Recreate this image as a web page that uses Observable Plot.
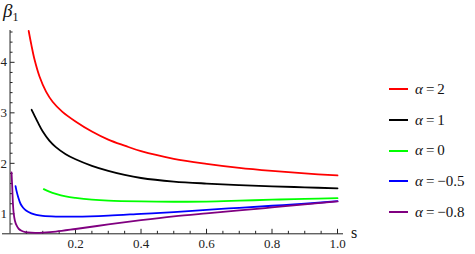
<!DOCTYPE html>
<html><head><meta charset="utf-8">
<script src="https://cdn.jsdelivr.net/npm/d3@7"></script>
<script src="https://cdn.jsdelivr.net/npm/@observablehq/plot@0.6"></script>
<style>
html,body{margin:0;padding:0;background:#fff}
#wrap{position:relative;width:475px;height:254px;overflow:hidden;font-family:"Liberation Serif","DejaVu Serif",serif;color:#111}
#wrap svg{position:absolute;left:0;top:0}
.ylab{position:absolute;left:3px;top:1px;font-size:19px;line-height:1}
.ylab sub{font-size:12px;font-style:normal;vertical-align:-4px}
.xlab{position:absolute;left:351px;top:225px;font-size:16px;line-height:1}
#legend{position:absolute;left:389px;top:74px}
#legend .row{height:30.7px;display:flex;align-items:center;font-size:15px;white-space:pre}
#legend .sw{display:inline-block;width:19px;height:2px;margin-right:7px}
</style></head><body><div id="wrap"></div>
<script>
// ---- data ----
const seriesLabels = ["α=2", "α=1", "α=0", "α=−0.5", "α=−0.8"];
const seriesColors = ["#ff0000", "#000000", "#00ff00", "#0000ff", "#800080"];

const sA2 = [0.057, 0.065, 0.075, 0.09, 0.11, 0.13, 0.16, 0.2, 0.25, 0.3, 0.35, 0.4, 0.5, 0.6, 0.7, 0.8, 0.9, 1.0];
const bA2 = [4.62, 4.35, 4.05, 3.72, 3.42, 3.22, 3.02, 2.83, 2.63, 2.47, 2.35, 2.24, 2.09, 1.99, 1.91, 1.85, 1.80, 1.76];

const sA1 = [0.066, 0.075, 0.085, 0.1, 0.12, 0.14, 0.17, 0.2, 0.25, 0.3, 0.35, 0.4, 0.5, 0.6, 0.7, 0.8, 0.9, 1.0];
const bA1 = [3.06, 2.94, 2.81, 2.63, 2.45, 2.32, 2.18, 2.08, 1.95, 1.85, 1.77, 1.71, 1.64, 1.60, 1.57, 1.545, 1.525, 1.505];

const sA0 = [0.103, 0.12, 0.14, 0.17, 0.2, 0.25, 0.3, 0.4, 0.5, 0.6, 0.7, 0.8, 0.9, 1.0];
const bA0 = [1.49, 1.44, 1.395, 1.345, 1.315, 1.28, 1.26, 1.245, 1.24, 1.243, 1.26, 1.28, 1.295, 1.31];

const sAm05 = [0.0168, 0.02, 0.025, 0.032, 0.04, 0.05, 0.065, 0.08, 0.1, 0.14, 0.2, 0.3, 0.4, 0.5, 0.6, 0.7, 0.8, 0.9, 1.0];
const bAm05 = [1.55, 1.45, 1.33, 1.20, 1.12, 1.06, 1.01, 0.98, 0.96, 0.947, 0.945, 0.965, 1.0, 1.035, 1.08, 1.12, 1.16, 1.20, 1.25];

const sAm08 = [0.0046, 0.0067, 0.0087, 0.011, 0.0147, 0.02, 0.027, 0.035, 0.047, 0.065, 0.08, 0.1, 0.14, 0.2, 0.3, 0.4, 0.5, 0.6, 0.7, 0.8, 0.9, 1.0];
const bAm08 = [1.82, 1.53, 1.22, 1.02, 0.87, 0.77, 0.70, 0.665, 0.64, 0.627, 0.625, 0.63, 0.65, 0.70, 0.79, 0.875, 0.95, 1.01, 1.067, 1.127, 1.187, 1.245];

const xMajorTicks = [0.2, 0.4, 0.6, 0.8, 1.0];
const xMinorTicks = [0.05, 0.1, 0.15, 0.25, 0.3, 0.35, 0.45, 0.5, 0.55, 0.65, 0.7, 0.75, 0.85, 0.9, 0.95];
const yMajorTicks = [1, 2, 3, 4];
const yMinorTicks = [0.8, 1.2, 1.4, 1.6, 1.8, 2.2, 2.4, 2.6, 2.8, 3.2, 3.4, 3.6, 3.8, 4.2, 4.4, 4.6];

const xDomain = [-0.023, 1.0183];
const yDomain = [0.605, 4.63];

// ---- build table ----
const sArrays = [sA2, sA1, sA0, sAm05, sAm08];
const bArrays = [bA2, bA1, bA0, bAm05, bAm08];
const rows = [];
sArrays.forEach((sArr, i) => sArr.forEach((s, j) => rows.push({series: seriesLabels[i], s, beta: bArrays[i][j]})));

const tickSym = (dx, dy) => ({draw(ctx) { ctx.moveTo(0, 0); ctx.lineTo(dx, dy); }});
const axisColor = "#222";
const serif = "'Liberation Serif','DejaVu Serif',serif";

const chart = Plot.plot({
  width: 475,
  height: 254,
  marginLeft: 2,
  marginRight: 132,
  marginTop: 30,
  marginBottom: 20.7,
  x: {domain: xDomain, axis: null},
  y: {domain: yDomain, axis: null},
  color: {domain: seriesLabels, range: seriesColors},
  style: {fontFamily: serif, fontSize: "13px", background: "white", overflow: "visible"},
  marks: [
    Plot.ruleY([yDomain[0]], {stroke: axisColor, strokeWidth: 1}),
    Plot.ruleX([0], {stroke: axisColor, strokeWidth: 1}),
    Plot.dot(xMajorTicks, {x: d => d, y: yDomain[0], symbol: tickSym(0, -5), fill: "none", stroke: axisColor, strokeWidth: 1}),
    Plot.dot(xMinorTicks, {x: d => d, y: yDomain[0], symbol: tickSym(0, -3), fill: "none", stroke: axisColor, strokeWidth: 1}),
    Plot.dot(yMajorTicks, {x: 0, y: d => d, symbol: tickSym(4.5, 0), fill: "none", stroke: axisColor, strokeWidth: 1}),
    Plot.dot(yMinorTicks, {x: 0, y: d => d, symbol: tickSym(2.5, 0), fill: "none", stroke: axisColor, strokeWidth: 1}),
    Plot.text(xMajorTicks, {x: d => d, y: yDomain[0], text: d => d.toFixed(1), dy: 10, fill: "#222", fontFamily: serif}),
    Plot.text(yMajorTicks, {x: 0, y: d => d, text: d => String(d), textAnchor: "end", dx: -3, fill: "#222", fontFamily: serif}),
    Plot.line(rows, {x: "s", y: "beta", z: "series", stroke: "series", strokeWidth: 1.8, curve: "catmull-rom"})
  ]
});

const wrap = document.getElementById("wrap");
wrap.appendChild(chart);

const yl = document.createElement("div");
yl.className = "ylab";
yl.innerHTML = "<i>β</i><sub>1</sub>";
wrap.appendChild(yl);

const xl = document.createElement("div");
xl.className = "xlab";
xl.textContent = "s";
wrap.appendChild(xl);

const legend = document.createElement("div");
legend.id = "legend";
seriesLabels.forEach((lab, i) => {
  const row = document.createElement("div");
  row.className = "row";
  const sw = document.createElement("span");
  sw.className = "sw";
  sw.style.background = seriesColors[i];
  row.appendChild(sw);
  const t = document.createElement("span");
  const [a, rest] = lab.split("=");
  t.innerHTML = "<i>" + a + "</i>\u2009=\u2009" + rest;
  row.appendChild(t);
  legend.appendChild(row);
});
wrap.appendChild(legend);
</script>
</body></html>
